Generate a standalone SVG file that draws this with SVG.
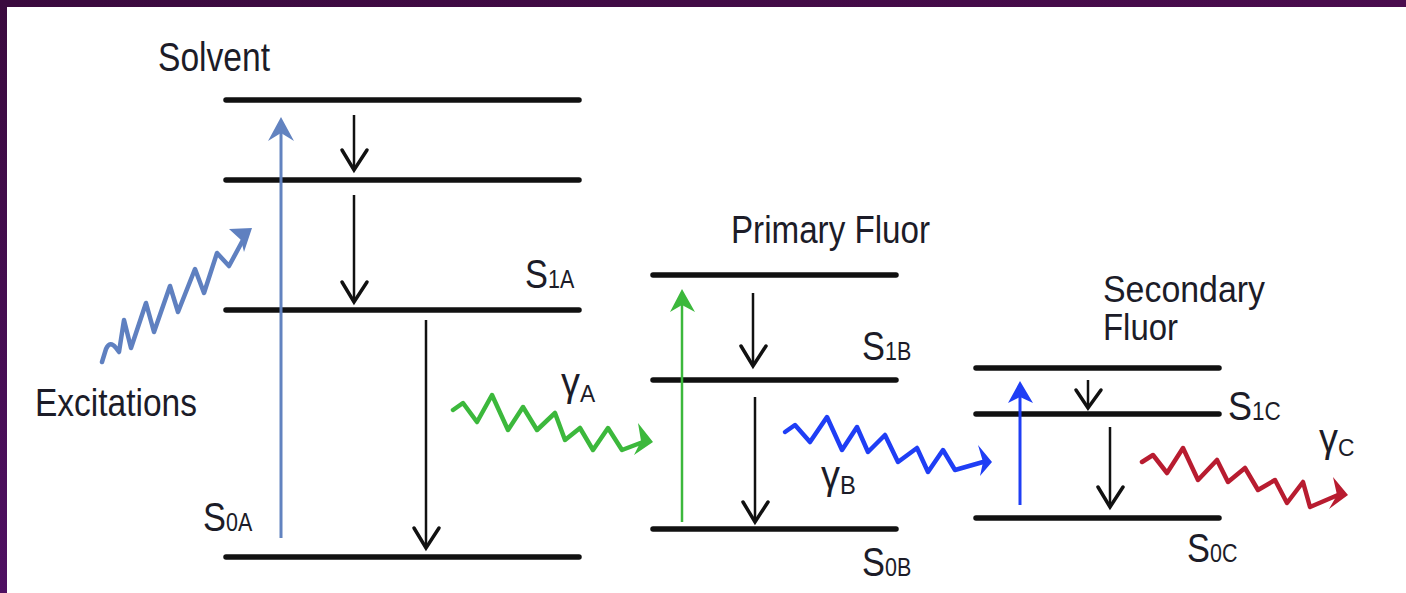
<svg xmlns="http://www.w3.org/2000/svg" width="1406" height="593" viewBox="0 0 1406 593">
<defs>
<linearGradient id="lbar" x1="0" y1="0" x2="0" y2="1">
<stop offset="0" stop-color="#3a0a3e"/>
<stop offset="1" stop-color="#4f1062"/>
</linearGradient>
<linearGradient id="tbar" x1="0" y1="0" x2="1" y2="0">
<stop offset="0" stop-color="#3a0a3e"/>
<stop offset="1" stop-color="#4a0c4e"/>
</linearGradient>
<style>
.lvl{stroke:#111;stroke-width:5.5;stroke-linecap:round;fill:none}
.t{font-family:"Liberation Sans",Arial,sans-serif;fill:#1c1c28}
.big{font-size:40px}
.sub{font-size:25px}
.shaft{stroke:#111;stroke-width:2.5;fill:none}
.chev{stroke:#111;stroke-width:3.5;fill:none;stroke-linejoin:miter;stroke-linecap:round}
.wave{fill:none;stroke-width:4.5;stroke-linejoin:round;stroke-linecap:round}
</style>
</defs>
<rect x="0" y="0" width="1406" height="593" fill="#fff"/>
<rect x="0" y="0" width="1406" height="7" fill="url(#tbar)"/>
<rect x="0" y="0" width="7" height="593" fill="url(#lbar)"/>

<g id="solvent">
<text class="t" x="158" y="71" font-size="40" textLength="112" lengthAdjust="spacingAndGlyphs">Solvent</text>
<line class="lvl" x1="226" y1="100" x2="579" y2="100"/>
<line class="lvl" x1="226" y1="180" x2="579" y2="180"/>
<line class="lvl" x1="226" y1="310" x2="579" y2="310"/>
<line class="lvl" x1="226" y1="557" x2="579" y2="557"/>
<text class="t big" transform="translate(525,288) scale(0.86,1)">S<tspan class="sub">1A</tspan></text>
<text class="t big" transform="translate(203,531) scale(0.86,1)">S<tspan class="sub">0A</tspan></text>
</g>

<g id="excitations">
<text class="t" x="35" y="416" font-size="38" textLength="162" lengthAdjust="spacingAndGlyphs">Excitations</text>
</g>

<g id="primary-fluor">
<text class="t" x="731" y="243" font-size="38" textLength="199" lengthAdjust="spacingAndGlyphs">Primary Fluor</text>
<line class="lvl" x1="653" y1="275" x2="896" y2="275"/>
<line class="lvl" x1="653" y1="380" x2="896" y2="380"/>
<line class="lvl" x1="653" y1="529" x2="896" y2="529"/>
<text class="t big" transform="translate(862,360) scale(0.86,1)">S<tspan class="sub">1B</tspan></text>
<text class="t big" transform="translate(862,576) scale(0.86,1)">S<tspan class="sub">0B</tspan></text>
</g>

<g id="secondary-fluor">
<text class="t" x="1103" y="302" font-size="37" textLength="162" lengthAdjust="spacingAndGlyphs">Secondary</text>
<text class="t" x="1103" y="340" font-size="37" textLength="75" lengthAdjust="spacingAndGlyphs">Fluor</text>
<line class="lvl" x1="976" y1="368" x2="1219" y2="368"/>
<line class="lvl" x1="976" y1="414" x2="1219" y2="414"/>
<line class="lvl" x1="976" y1="518" x2="1219" y2="518"/>
<text class="t big" transform="translate(1228,420) scale(0.9,1)">S<tspan class="sub">1C</tspan></text>
<text class="t big" transform="translate(1187,562) scale(0.86,1)">S<tspan class="sub">0C</tspan></text>
</g>

<g id="photon-labels">
<text class="t" transform="translate(561,396) scale(0.95,1)" font-size="40">γ<tspan font-size="24" dy="6">A</tspan></text>
<text class="t" transform="translate(821,489) scale(0.95,1)" font-size="40">γ<tspan font-size="25" dy="5">B</tspan></text>
<text class="t" transform="translate(1319,452) scale(0.95,1)" font-size="40">γ<tspan font-size="24" dy="4">C</tspan></text>
</g>

<g id="connectors">
<line class="shaft" x1="354" y1="115" x2="354" y2="168"/>
<polyline class="chev" points="342,150 354,170 367,150"/>
<line class="shaft" x1="354" y1="195" x2="354" y2="300"/>
<polyline class="chev" points="342,282 354,302 367,282"/>
<line class="shaft" x1="426" y1="320" x2="426" y2="546"/>
<polyline class="chev" points="414,528 426,548 439,528"/>
<line class="shaft" x1="753" y1="293" x2="753" y2="364"/>
<polyline class="chev" points="741,346 753,366 766,346"/>
<line class="shaft" x1="755" y1="397" x2="755" y2="520"/>
<polyline class="chev" points="743,502 755,522 768,502"/>
<line class="shaft" x1="1088" y1="380" x2="1088" y2="406"/>
<polyline class="chev" points="1076,390 1088,408 1101,390"/>
<line class="shaft" x1="1110" y1="427" x2="1110" y2="505"/>
<polyline class="chev" points="1098,487 1110,507 1123,487"/>

<line x1="281" y1="538" x2="281" y2="132" stroke="#6283c0" stroke-width="3"/>
<polygon points="281,117 294,141 281,133 268,141" fill="#6283c0"/>
<line x1="682" y1="522" x2="682" y2="304" stroke="#3cb83c" stroke-width="2.5"/>
<polygon points="682,289 695,312 682,305 670,312" fill="#3cb83c"/>
<line x1="1020" y1="505" x2="1020" y2="396" stroke="#1f3ef5" stroke-width="3"/>
<polygon points="1020,381 1033,403 1020,397 1008,403" fill="#1f3ef5"/>

<path class="wave" stroke="#5f80c0" d="M102,362 L106,349 Q110,340 116,348 L119,352 L124,320 L131,348 L146,303 L154,332 L170,286 L178,312 L195,269 L204,293 L217,253 L229,266 L243,240"/>
<polygon points="252,228 244,252 241,240 229,229" fill="#5f80c0"/>

<path class="wave" stroke="#3cb83c" d="M453,410 L463,403 L477,422 L492,395 L508,430 L523,407 L537,430 L555,413 L565,440 L580,428 L593,450 L608,428 L622,450 L643,442"/>
<polygon points="653,442 634,455 641,441 638,423" fill="#3cb83c"/>

<path class="wave" stroke="#1f3ef5" d="M785,432 L795,425 L810,442 L827,417 L842,450 L857,427 L868,452 L885,435 L898,462 L917,448 L928,472 L943,450 L955,470 L983,462"/>
<polygon points="992,462 980,476 983,462 978,445" fill="#1f3ef5"/>

<path class="wave" stroke="#b81c30" d="M1142,462 L1153,455 L1167,473 L1183,448 L1198,480 L1217,460 L1228,482 L1245,468 L1258,490 L1275,480 L1287,503 L1303,482 L1310,507 L1338,495"/>
<polygon points="1348,495 1329,509 1337,495 1333,477" fill="#b81c30"/>
</g>
</svg>
